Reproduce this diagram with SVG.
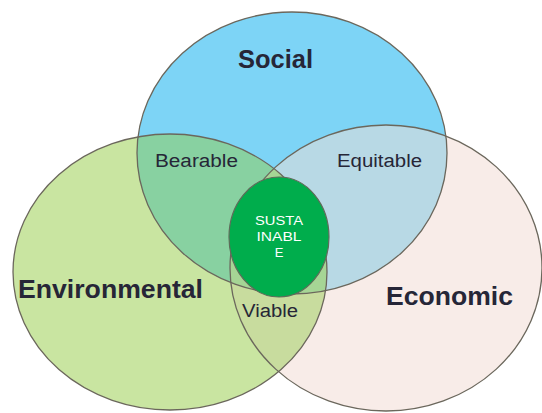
<svg xmlns="http://www.w3.org/2000/svg" width="542" height="413" viewBox="0 0 542 413">
<style>
.edge{fill:none;stroke:#6b675c;stroke-width:1.3}
.lbl{font-family:"Liberation Sans",Arial,sans-serif;fill:#262637}
.big{font-size:25px;font-weight:bold}
.mid{font-size:18px}
.in{font-family:"Liberation Sans",Arial,sans-serif;font-size:13px;fill:#ffffff;text-anchor:middle}
</style>
<defs>
<ellipse id="eS" cx="292" cy="153" rx="155" ry="141"/>
<ellipse id="eV" cx="170" cy="272" rx="157" ry="138"/>
<ellipse id="eC" cx="386" cy="268" rx="156" ry="143"/>
<clipPath id="cS"><use href="#eS"/></clipPath>
<clipPath id="cV"><use href="#eV"/></clipPath>
<clipPath id="cC"><use href="#eC"/></clipPath>
</defs>
<rect width="542" height="413" fill="#ffffff"/>
<g id="environmental">
<use href="#eV" fill="#c9e5a1"/>
</g>
<g id="economic">
<use href="#eC" fill="#f8ece8"/>
</g>
<g id="social">
<use href="#eS" fill="#7dd4f6"/>
</g>
<g id="overlaps">
<g clip-path="url(#cS)"><use href="#eV" fill="#88d1a1"/></g>
<g clip-path="url(#cS)"><use href="#eC" fill="#b8d9e5"/></g>
<g clip-path="url(#cV)"><use href="#eC" fill="#c8dc9e"/></g>
<g clip-path="url(#cV)"><g clip-path="url(#cS)"><use href="#eC" fill="#a6d595"/></g></g>
</g>
<g id="outlines">
<use href="#eV" class="edge"/>
<use href="#eC" class="edge"/>
<use href="#eS" class="edge"/>
</g>
<g id="sustainable">
<ellipse cx="279" cy="237" rx="50" ry="60" fill="#00ad4c" stroke="#5f6b5a" stroke-width="1.2"/>
<text class="in" x="279" y="225" textLength="48" lengthAdjust="spacingAndGlyphs">SUSTA</text>
<text class="in" x="279" y="241" textLength="45" lengthAdjust="spacingAndGlyphs">INABL</text>
<text class="in" x="279" y="257">E</text>
</g>
<g id="labels">
<text class="lbl big" x="238" y="68" textLength="75" lengthAdjust="spacingAndGlyphs">Social</text>
<text class="lbl mid" x="155" y="167" textLength="83" lengthAdjust="spacingAndGlyphs">Bearable</text>
<text class="lbl mid" x="337" y="167" textLength="85" lengthAdjust="spacingAndGlyphs">Equitable</text>
<text class="lbl big" x="18" y="298" textLength="185" lengthAdjust="spacingAndGlyphs">Environmental</text>
<text class="lbl big" x="386" y="305" textLength="127" lengthAdjust="spacingAndGlyphs">Economic</text>
<text class="lbl mid" x="242" y="317" textLength="56" lengthAdjust="spacingAndGlyphs">Viable</text>
</g>
</svg>
